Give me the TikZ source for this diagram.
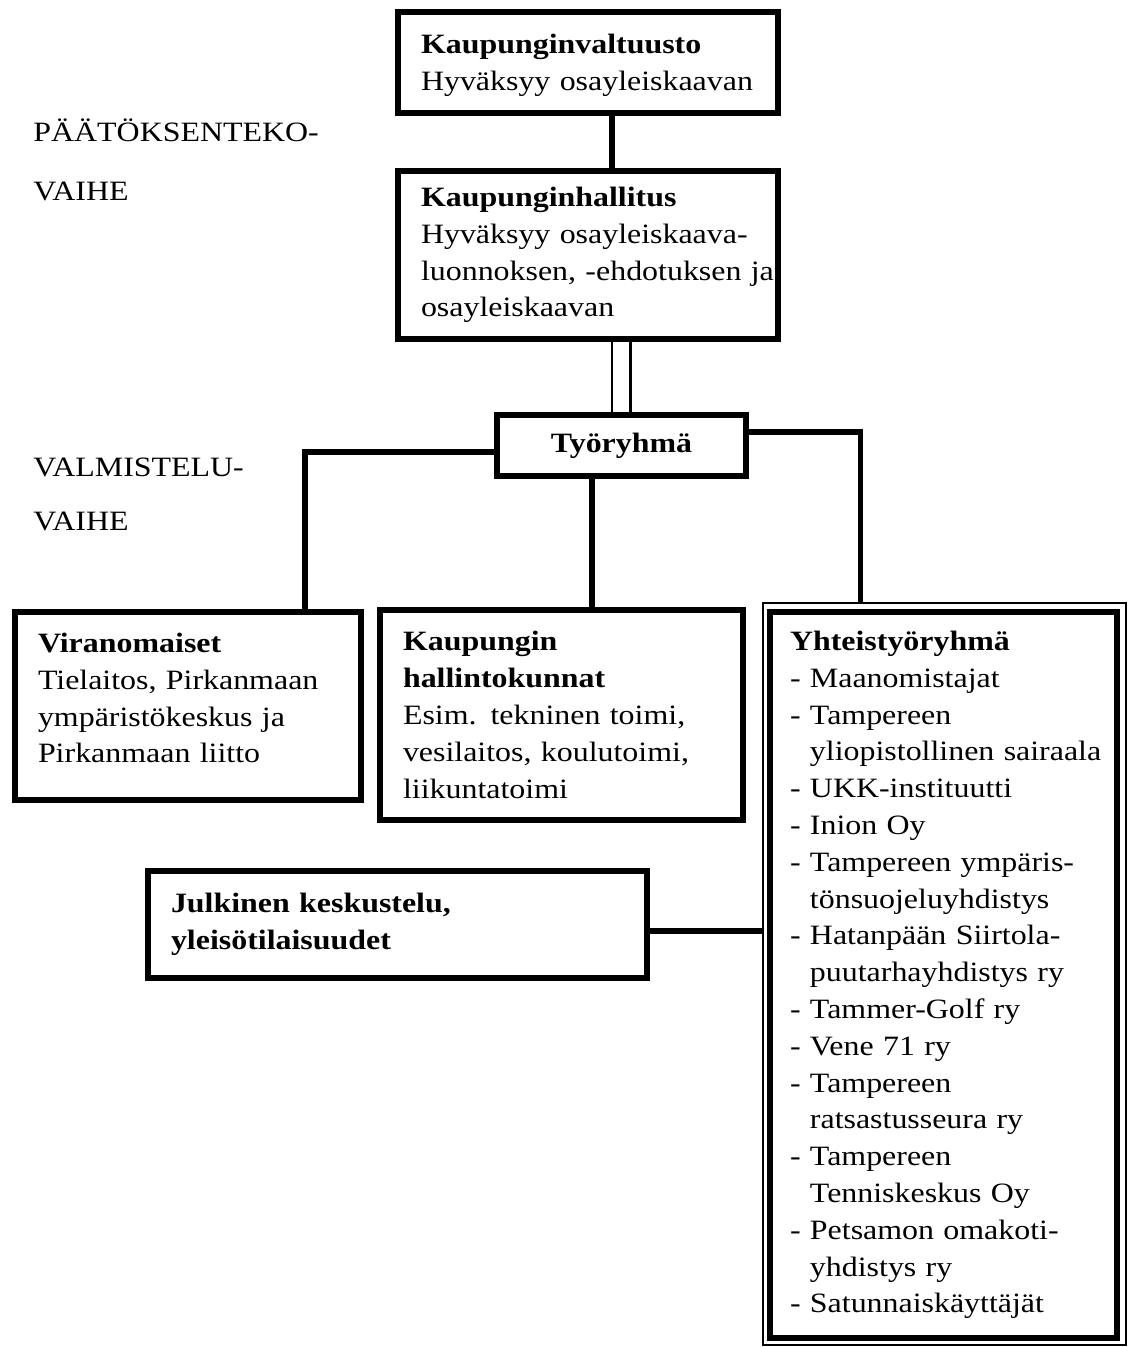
\documentclass[tikz,border=0pt]{standalone}
\usepackage{fontspec}
\setmainfont[FakeStretch=1.14]{Liberation Serif}
\tikzset{
	box/.style={draw, line width=3.25pt, outer sep=0pt, anchor=north west, align=left, inner xsep=11.5pt, inner ysep=0pt, font=\fontsize{14}{18.4}\selectfont},
	link/.style={line width=3.25pt},
	rlink/.style={line width=2.5pt},
	thinlink/.style={line width=1.3pt},
	phase/.style={anchor=base west, inner sep=0pt, font=\fontsize{14}{18.4}\selectfont}
}

\begin{document}
\begin{tikzpicture}[x=0.5pt, y=-0.5pt]

	\useasboundingbox[fill=white] (0,0) rectangle (1129,1347);

	% phases
	\node[phase] (pv1) at (33,142) {PÄÄTÖKSENTEKO-};
	\node[phase] (pv2) at (33,201) {VAIHE};
	\node[phase] (vv1) at (33,476) {VALMISTELU-};
	\node[phase] (vv2) at (33,530) {VAIHE};

	% decision
	\node[box, text width=167pt, minimum height=50.5pt, text depth=18.4pt] (kv) at (398,12) {\textbf{Kaupunginvaltuusto}\\\mbox{Hyväksyy osayleiskaavan}};
	\node[box, text width=167pt, minimum height=84pt] (kh) at (398,171) {\textbf{Kaupunginhallitus}\\\mbox{Hyväksyy osayleiskaava-}\\\mbox{luonnoksen, -ehdotuksen ja}\\osayleiskaavan};

	% preparation
	\node[box, align=center, text width=101.5pt, minimum height=30.5pt] (ty) at (497,415) {\textbf{Työryhmä}};
	\node[box, text width=150pt, minimum height=94pt, text depth=63.2pt] (vir) at (15,612) {\textbf{Viranomaiset}\\Tielaitos, Pirkanmaan\\ympäristökeskus ja\\Pirkanmaan liitto};
	\node[box, text width=158.5pt, minimum height=105pt] (hal) at (380,610) {\textbf{Kaupungin}\\\textbf{hallintokunnat}\\Esim. tekninen toimi,\\vesilaitos, koulutoimi,\\liikuntatoimi};
	\node[box, text width=226.5pt, minimum height=53.5pt] (jul) at (148,871) {\textbf{Julkinen keskustelu,}\\\textbf{yleisötilaisuudet}};
	\node[box, inner xsep=10pt, text width=153.5pt, minimum height=363pt] (yht) at (770,612) {\textbf{Yhteistyöryhmä}\\
		- Maanomistajat\\
		- Tampereen\\
		\hphantom{- }\mbox{yliopistollinen sairaala}\\
		- UKK-instituutti\\
		- Inion Oy\\
		- Tampereen ympäris-\\
		\hphantom{- }tönsuojeluyhdistys\\
		- Hatanpään Siirtola-\\
		\hphantom{- }puutarhayhdistys ry\\
		- Tammer-Golf ry\\
		- Vene 71 ry\\
		- Tampereen\\
		\hphantom{- }ratsastusseura ry\\
		- Tampereen\\
		\hphantom{- }Tenniskeskus Oy\\
		- Petsamon omakoti-\\
		\hphantom{- }yhdistys ry\\
		- Satunnaiskäyttäjät};
	\draw[line width=1pt] ([shift={(-3.5pt,4.5pt)}]yht.north west) rectangle ([shift={(4.5pt,-3.5pt)}]yht.south east);

	% links
	\draw[link] ([xshift=12pt]kv.south) -- ([xshift=12pt]kv.south |- kh.north);
	\draw[thinlink] ([xshift=-4.75pt]ty.north) -- ([xshift=-4.75pt]ty.north |- kh.south);
	\draw[thinlink] ([xshift=4.5pt]ty.north) -- ([xshift=4.5pt]ty.north |- kh.south);
	\draw[link] ([yshift=-3.25pt]ty.west) -| ([xshift=58.5pt]vir.north);
	\draw[link] ([xshift=-14.75pt]ty.south) -- ([xshift=-14.75pt]ty.south |- hal.north);
	\draw[rlink, shorten >=4.5pt] ([yshift=6.75pt]ty.east) -| ([xshift=-41.75pt]yht.north);
	\draw[link, shorten >=3.5pt] ([yshift=-3.25pt]jul.east) -- ([yshift=-3.25pt]jul.east -| yht.west);

\end{tikzpicture}
\end{document}
